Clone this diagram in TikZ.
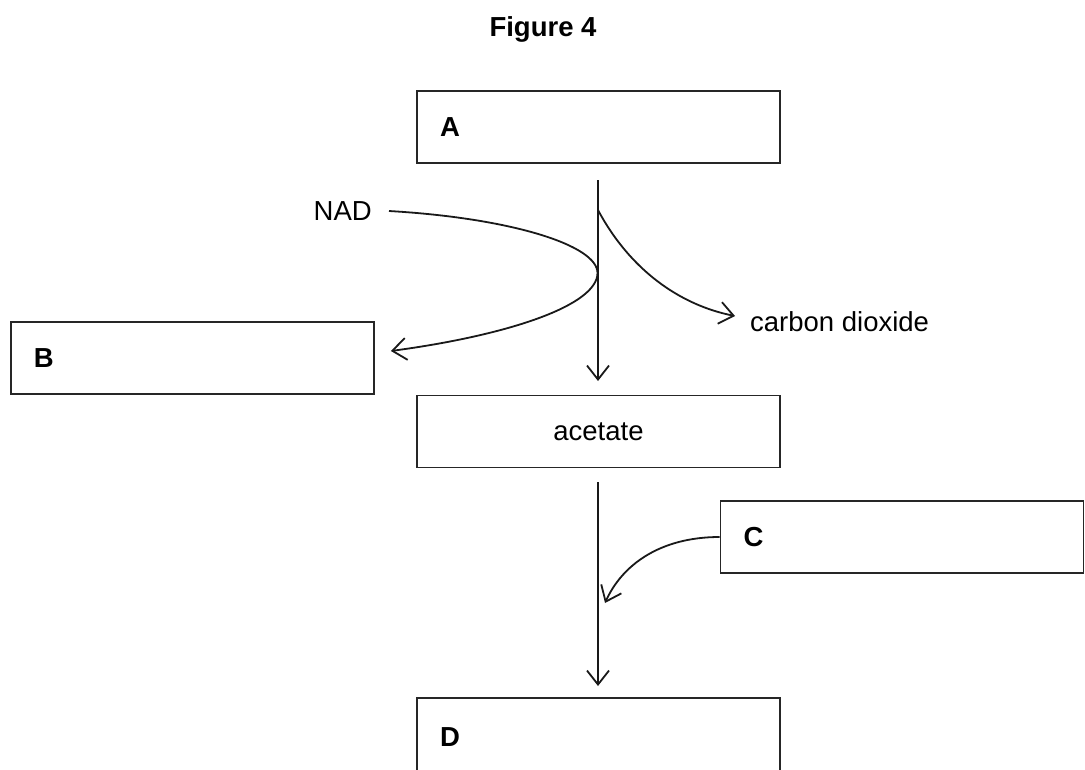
\documentclass[tikz,border=0pt]{standalone}
\usepackage{fontspec}
\setmainfont{Liberation Sans}
\usetikzlibrary{arrows.meta}
\begin{document}
\begin{tikzpicture}[x=1pt,y=-1pt,
  every node/.style={font=\fontsize{27.5}{32}\selectfont},
  boxnode/.style={draw=black!85,line width=1.8pt,rectangle,minimum width=363pt,minimum height=72pt,inner xsep=0pt,inner ysep=0pt},
  lefttext/.style={text width=317pt,align=left},
  conn/.style={draw=black!90,line width=1.8pt,-{Straight Barb[length=14pt,width=22pt,line width=1.8pt]}}]
\useasboundingbox (0,0) rectangle (1085,769);
\clip (0,0) rectangle (1085,769);
\fill[white] (0,0) rectangle (1085,769);
\node[font=\fontsize{27.5}{32}\selectfont\bfseries] (title) at (543,29) {Figure 4};
\node[boxnode,lefttext] (A) at (598.5,127) {\textbf{A}};
\node[boxnode,lefttext] (B) at (192.5,358) {\textbf{B}};
\node[boxnode] (acetate) at (598.5,431.5) {acetate};
\node[boxnode,lefttext] (C) at (902,537) {\textbf{C}};
\node[boxnode,lefttext,minimum height=78pt] (D) at (598.5,737) {\textbf{D}};
\node[anchor=east,inner sep=0pt] (NAD) at (372,211) {NAD};
\node[anchor=west,inner sep=0pt] (co2) at (750,322) {carbon dioxide};
\coordinate (topstart) at (598,180);
\coordinate (topend) at (598,381);
\coordinate (vertex) at (597.5,273);
\coordinate (co2start) at (598,210);
\coordinate (co2end) at (735,316);
\coordinate (botstart) at (598,482);
\coordinate (botend) at (598,686);
\coordinate (cend) at (605,603);
\draw[conn] (topstart) -- (topend);
\draw[conn] (botstart) -- (botend);
\draw[conn] ([xshift=17pt]NAD.east) .. controls (510,218) and (597.5,245) .. (vertex)
  .. controls (597.5,305) and (510,335) .. ([xshift=16pt,yshift=7pt]B.east);
\draw[conn] (co2start) .. controls (630,270) and (680,305) .. (co2end);
\draw[conn] (C.west) .. controls (660,537) and (622,565) .. (cend);
\end{tikzpicture}
\end{document}
